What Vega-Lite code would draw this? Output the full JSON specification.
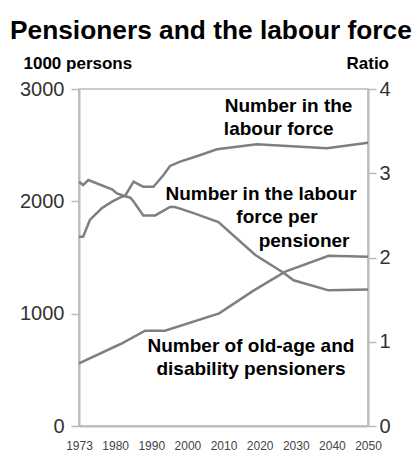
{
  "$schema": "https://vega.github.io/schema/vega-lite/v6.json",
  "autosize": {"type": "none"},
  "width": 289,
  "height": 337,
  "padding": {"left": 79, "top": 89, "right": 46, "bottom": 32},
  "background": "white",
  "title": {
    "text": "Pensioners and the labour force",
    "anchor": "start",
    "frame": "group",
    "dx": -69,
    "dy": 31,
    "offset": 20,
    "baseline": "alphabetic",
    "font": "Liberation Sans",
    "fontSize": 26.3,
    "fontWeight": "bold",
    "color": "#000000"
  },
  "config": {
    "view": {"stroke": "#bbbbbb", "strokeWidth": 1.5},
    "axis": {"grid": false, "domainColor": "#bbbbbb", "domainWidth": 2, "tickColor": "#bbbbbb", "tickWidth": 1.5, "labelFont": "Liberation Sans", "titleFont": "Liberation Sans"},
    "axisX": {"labelOverlap": false, "labelFlush": false, "ticks": false, "labelPadding": 14, "labelFontSize": 12, "labelColor": "#444444"}
  },
  "datasets": {
    "persons": [
      {"year": 1973, "value": 1685, "series": "Number in the labour force"},
      {"year": 1973.8, "value": 1685, "series": "Number in the labour force"},
      {"year": 1975.1, "value": 1834, "series": "Number in the labour force"},
      {"year": 1977.4, "value": 1938, "series": "Number in the labour force"},
      {"year": 1979.4, "value": 1997, "series": "Number in the labour force"},
      {"year": 1981.9, "value": 2041, "series": "Number in the labour force"},
      {"year": 1982.8, "value": 2050, "series": "Number in the labour force"},
      {"year": 1985.1, "value": 2175, "series": "Number in the labour force"},
      {"year": 1986.9, "value": 2145, "series": "Number in the labour force"},
      {"year": 1987.8, "value": 2130, "series": "Number in the labour force"},
      {"year": 1990.6, "value": 2130, "series": "Number in the labour force"},
      {"year": 1993.4, "value": 2234, "series": "Number in the labour force"},
      {"year": 1995.2, "value": 2315, "series": "Number in the labour force"},
      {"year": 1998, "value": 2353, "series": "Number in the labour force"},
      {"year": 2002.2, "value": 2397, "series": "Number in the labour force"},
      {"year": 2008.2, "value": 2463, "series": "Number in the labour force"},
      {"year": 2019.2, "value": 2508, "series": "Number in the labour force"},
      {"year": 2038.6, "value": 2472, "series": "Number in the labour force"},
      {"year": 2050, "value": 2522, "series": "Number in the labour force"},
      {"year": 1973, "value": 558, "series": "Number of old-age and disability pensioners"},
      {"year": 1980.9, "value": 721, "series": "Number of old-age and disability pensioners"},
      {"year": 1981.9, "value": 736, "series": "Number of old-age and disability pensioners"},
      {"year": 1988.3, "value": 848, "series": "Number of old-age and disability pensioners"},
      {"year": 1993.8, "value": 848, "series": "Number of old-age and disability pensioners"},
      {"year": 2008.8, "value": 1003, "series": "Number of old-age and disability pensioners"},
      {"year": 2018.3, "value": 1205, "series": "Number of old-age and disability pensioners"},
      {"year": 2027.1, "value": 1374, "series": "Number of old-age and disability pensioners"},
      {"year": 2039.1, "value": 1516, "series": "Number of old-age and disability pensioners"},
      {"year": 2050, "value": 1507, "series": "Number of old-age and disability pensioners"}
    ],
    "ratio": [
      {"year": 1973, "ratio": 2.90},
      {"year": 1973.8, "ratio": 2.86},
      {"year": 1974.8, "ratio": 2.92},
      {"year": 1979.4, "ratio": 2.81},
      {"year": 1980.5, "ratio": 2.76},
      {"year": 1982.6, "ratio": 2.73},
      {"year": 1984.2, "ratio": 2.71},
      {"year": 1985, "ratio": 2.67},
      {"year": 1987.8, "ratio": 2.50},
      {"year": 1991.1, "ratio": 2.50},
      {"year": 1995.2, "ratio": 2.60},
      {"year": 1996.5, "ratio": 2.60},
      {"year": 1998, "ratio": 2.58},
      {"year": 2002.1, "ratio": 2.52},
      {"year": 2008.6, "ratio": 2.42},
      {"year": 2018.8, "ratio": 2.03},
      {"year": 2026.6, "ratio": 1.82},
      {"year": 2029.4, "ratio": 1.73},
      {"year": 2039.1, "ratio": 1.61},
      {"year": 2050, "ratio": 1.62}
    ],
    "labels": [
      {"year": 2028.0, "value": 2795, "text": "Number in the"},
      {"year": 2025.3, "value": 2590, "text": "labour force"},
      {"year": 2020.4, "value": 2012, "text": "Number in the labour"},
      {"year": 2024.8, "value": 1804, "text": "force per"},
      {"year": 2032.3, "value": 1596, "text": "pensioner"},
      {"year": 2017.6, "value": 661, "text": "Number of old-age and"},
      {"year": 2017.6, "value": 454, "text": "disability pensioners"}
    ]
  },
  "layer": [
    {
      "layer": [
        {
          "data": {"name": "persons"},
          "mark": {"type": "line", "color": "#7f7f7f", "strokeWidth": 2.5},
          "encoding": {
            "x": {
              "field": "year", "type": "quantitative",
              "scale": {"domain": [1973, 1980, 1990, 2000, 2010, 2020, 2030, 2040, 2050], "range": [0, 36.125, 72.25, 108.375, 144.5, 180.625, 216.75, 252.875, 289], "nice": false, "zero": false},
              "axis": {"values": [1973, 1980, 1990, 2000, 2010, 2020, 2030, 2040, 2050], "tickCount": 20, "format": "d", "title": null, "labelOverlap": false}
            },
            "y": {
              "field": "value", "type": "quantitative",
              "scale": {"domain": [0, 3000], "nice": false},
              "axis": {"values": [0, 1000, 2000, 3000], "tickCount": 10, "format": "d", "title": "1000 persons", "titleAngle": 0, "titleX": -56, "titleY": -21, "titleAlign": "left", "titleBaseline": "alphabetic", "titleFontSize": 17, "titleFontWeight": "bold", "titleColor": "#000000", "labelFontSize": 20, "labelColor": "#333333", "tickSize": 8, "labelPadding": 7}
            },
            "detail": {"field": "series", "type": "nominal"}
          }
        },
        {
          "data": {"name": "labels"},
          "mark": {"type": "text", "font": "Liberation Sans", "fontSize": 19, "fontWeight": "bold", "color": "#000000", "align": "center", "baseline": "alphabetic"},
          "encoding": {
            "x": {"field": "year", "type": "quantitative"},
            "y": {"field": "value", "type": "quantitative"},
            "text": {"field": "text", "type": "nominal"}
          }
        }
      ]
    },
    {
      "data": {"name": "ratio"},
      "mark": {"type": "line", "color": "#7f7f7f", "strokeWidth": 2.5},
      "encoding": {
        "x": {
          "field": "year", "type": "quantitative",
          "axis": {"values": [1973, 1980, 1990, 2000, 2010, 2020, 2030, 2040, 2050], "tickCount": 20, "format": "d", "title": null, "labelOverlap": false}
        },
        "y": {
          "field": "ratio", "type": "quantitative",
          "scale": {"domain": [0, 4], "nice": false},
          "axis": {"orient": "right", "values": [0, 1, 2, 3, 4], "tickCount": 10, "format": "d", "title": "Ratio", "titleAngle": 0, "titleX": -22, "titleY": -21, "titleAlign": "left", "titleBaseline": "alphabetic", "titleFontSize": 17, "titleFontWeight": "bold", "titleColor": "#000000", "labelFontSize": 20, "labelColor": "#333333", "tickSize": 8, "labelPadding": 3}
        }
      }
    }
  ],
  "resolve": {"scale": {"y": "independent"}}
}
